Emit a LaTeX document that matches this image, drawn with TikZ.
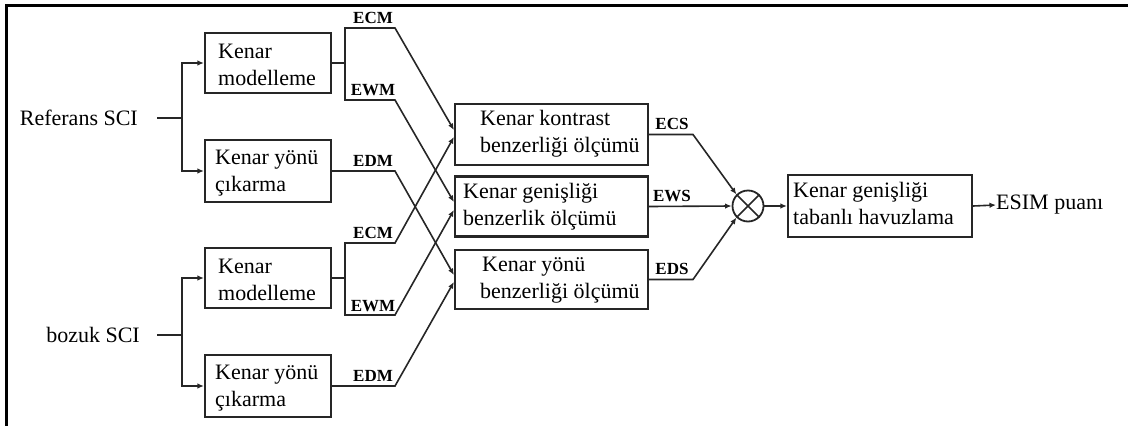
\documentclass[tikz,border=0pt]{standalone}
\usepackage{fontspec}
\setmainfont{Liberation Serif}
\usetikzlibrary{arrows.meta,calc}
\begin{document}
\begin{tikzpicture}[x=1pt,y=-1pt,
  box/.style={draw=black!85,line width=2.2pt,inner sep=0pt},
  txt/.style={font=\fontsize{22}{27}\selectfont,align=left,inner sep=0pt,anchor=west},
  lbl/.style={font=\fontsize{17}{20}\selectfont\bfseries,inner sep=1pt,anchor=south},
  conn/.style={draw=black!85,line width=1.6pt},
  arr/.style={conn,-{Latex[length=6.5pt,width=5.5pt]}},
]
\useasboundingbox (0,0) rectangle (1128,426);
\draw[line width=3pt] (6.5,426) -- (6.5,5) -- (1128,5);

% inputs
\node[txt,anchor=east] (ref) at (138,118) {Referans SCI};
\node[txt,anchor=east] (boz) at (140,335) {bozuk SCI};

% left boxes
\node[box,minimum width=126pt,minimum height=60pt] (m1) at (268,63) {};
\node[txt] (m1t) at (218,65) {Kenar\\modelleme};
\node[box,minimum width=126pt,minimum height=62pt] (d1) at (268,171) {};
\node[txt] (d1t) at (215,173) {Kenar yönü\\çıkarma};
\node[box,minimum width=126pt,minimum height=60pt] (m2) at (268,278) {};
\node[txt] (m2t) at (218,280) {Kenar\\modelleme};
\node[box,minimum width=126pt,minimum height=62pt] (d2) at (268,386) {};
\node[txt] (d2t) at (215,388) {Kenar yönü\\çıkarma};

% middle boxes
\node[box,minimum width=193pt,minimum height=61pt] (kc) at (551.5,134.5) {};
\node[txt] (kct) at (480,134) {Kenar kontrast\\benzerliği ölçümü};
\node[box,minimum width=193pt,minimum height=60pt] (kg) at (551.5,206.5) {};
\node[txt] (kgt) at (463,207) {Kenar genişliği\\benzerlik ölçümü};
\node[box,minimum width=193pt,minimum height=59pt] (ky) at (551.5,279.5) {};
\node[txt] (kyt) at (480,280) {\hspace{2pt}Kenar yönü\\benzerliği ölçümü};

% multiplier and pooling
\node[draw=black!85,line width=1.8pt,circle,minimum size=31pt,inner sep=0pt] (mul) at (748,206) {};
\draw[line width=1.5pt,black!85] (mul.45) -- (mul.225) (mul.135) -- (mul.315);
\node[box,minimum width=184pt,minimum height=62pt] (pool) at (880,206) {};
\node[txt] (poolt) at (793,203) {Kenar genişliği\\tabanlı havuzlama};
\node[txt] (esim) at (996,205) {ESIM puanı};

% input branches
\coordinate (rb) at (182,118);
\draw[conn] ([xshift=19pt]ref.east) -- (rb);
\draw[arr] (rb) |- (m1.west);
\draw[arr] (rb) |- (d1.west);
\coordinate (bb) at (182,335);
\draw[conn] ([xshift=17pt]boz.east) -- (bb);
\draw[arr] (bb) |- (m2.west);
\draw[arr] (bb) |- (d2.west);

% upper outputs
\coordinate (m1b) at (345,63);
\coordinate (ecm1) at (395,28);
\coordinate (ewm1) at (395,100);
\coordinate (edm1) at (395,171);
\draw[conn] (m1.east) -- (m1b);
\draw[arr] (m1b) |- (ecm1) -- ($(kc.west)+(0,-4.5)$);
\draw[arr] (m1b) |- (ewm1) -- ($(kg.west)+(0,-4.5)$);
\draw[arr] (d1.east) -- (edm1) -- ($(ky.west)+(0,-4.5)$);

% lower outputs
\coordinate (m2b) at (345,278);
\coordinate (ecm2) at (395,243);
\coordinate (ewm2) at (395,315);
\coordinate (edm2) at (395,386);
\draw[conn] (m2.east) -- (m2b);
\draw[arr] (m2b) |- (ecm2) -- ($(kc.west)+(0,2.5)$);
\draw[arr] (m2b) |- (ewm2) -- ($(kg.west)+(0,3.5)$);
\draw[arr] (d2.east) -- (edm2) -- ($(ky.west)+(0,2.5)$);

% labels
\node[lbl] (lecm1) at (373,25) {ECM};
\node[lbl] (lewm1) at (373,97) {EWM};
\node[lbl] (ledm1) at (373,168) {EDM};
\node[lbl] (lecm2) at (373,240) {ECM};
\node[lbl] (lewm2) at (373,313) {EWM};
\node[lbl] (ledm2) at (373,383) {EDM};

% right side
\coordinate (ecs) at (693,134.5);
\coordinate (eds) at (693,279.5);
\draw[arr] (kc.east) -- (ecs) -- (mul.135);
\draw[arr] (kg.east) -- (mul.west);
\draw[arr] (ky.east) -- (eds) -- (mul.225);
\node[lbl] (lecs) at (672,131) {ECS};
\node[lbl] (lews) at (672,203) {EWS};
\node[lbl] (leds) at (672,276) {EDS};
\draw[arr] (mul.east) -- (pool.west);
\draw[arr] (pool.east) -- (esim.west);
\end{tikzpicture}
\end{document}
